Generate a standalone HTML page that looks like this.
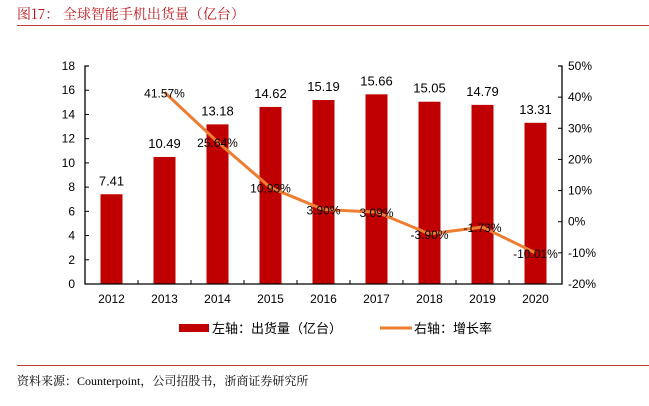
<!DOCTYPE html>
<html><head><meta charset="utf-8"><style>
body{margin:0;width:649px;height:401px;background:#fff;overflow:hidden;font-family:"Liberation Sans","Noto Sans CJK SC",sans-serif}
</style></head><body>
<svg width="649" height="401" xmlns="http://www.w3.org/2000/svg">
<text x="17" y="19" font-size="14" fill="#c0171c" font-family="Noto Serif CJK SC, serif">图17：  全球智能手机出货量（亿台）</text>
<line x1="17" y1="25.5" x2="649" y2="25.5" stroke="#c0393b" stroke-width="1"/>
<g id="plot"></g>
<g>
<rect x="179" y="324" width="30" height="8" fill="#c00000"/>
<text x="212" y="333" font-size="13" font-family="Noto Sans CJK SC, sans-serif">左轴：出货量（亿台）</text>
<line x1="380" y1="328" x2="412" y2="328" stroke="#ed7d31" stroke-width="3"/>
<text x="414" y="333" font-size="13" font-family="Noto Sans CJK SC, sans-serif">右轴：增长率</text>
</g>
<line x1="17" y1="365.5" x2="649" y2="365.5" stroke="#c0393b" stroke-width="1"/>
<text x="17" y="385" font-size="12" font-family="Liberation Serif, Noto Serif CJK SC, serif">资料来源：Counterpoint，公司招股书，浙商证券研究所</text>
</svg>
<script>
const categories=["2012","2013","2014","2015","2016","2017","2018","2019","2020"];
const shipments=[7.41,10.49,13.18,14.62,15.19,15.66,15.05,14.79,13.31];
const growth=[null,41.57,25.64,10.93,3.90,3.09,-3.90,-1.73,-10.01];
const leftTicks=[0,2,4,6,8,10,12,14,16,18];
const rightTicks=[-20,-10,0,10,20,30,40,50];
const X0=85,X1=562,Y0=284,Y1=66;
const band=(X1-X0)/categories.length;
const xc=i=>X0+band*(i+0.5);
const yl=v=>Y0-(v-0)/(18-0)*(Y0-Y1);
const yr=v=>Y0-(v+20)/70*(Y0-Y1);
const g=document.getElementById('plot');
const NS="http://www.w3.org/2000/svg";
function mk(t,a){const e=document.createElementNS(NS,t);for(const k in a)e.setAttribute(k,a[k]);g.appendChild(e);return e;}
shipments.forEach((v,i)=>{
 const r=mk('rect',{x:xc(i)-11,y:yl(v),width:22,height:Y0-yl(v),fill:'#c00000'});
 
 
});
// axes
const ax=mk('path',{d:`M${X0+4},${Y1}H${X0}V${Y0}H${X1}V${Y1}H${X1-4}`,fill:'none',stroke:'#000','stroke-width':1.3});


leftTicks.forEach(v=>{
 mk('line',{x1:X0,x2:X0+4,y1:yl(v),y2:yl(v),stroke:'#000'});
 const t=mk('text',{x:X0-10,y:yl(v)+4,'font-size':12,'text-anchor':'end'});t.textContent=v;
 
 
});
rightTicks.forEach(v=>{
 mk('line',{x1:X1-4,x2:X1,y1:yr(v),y2:yr(v),stroke:'#000'});
 const t=mk('text',{x:X1+6,y:yr(v)+4,'font-size':12});t.textContent=v+'%';
 
 
});
categories.forEach((c,i)=>{
 if(i>0)mk('line',{x1:X0+band*i,x2:X0+band*i,y1:Y0,y2:Y0-4,stroke:'#000'});
 const t=mk('text',{x:xc(i),y:Y0+19,'font-size':12,'text-anchor':'middle'});t.textContent=c;
 
 
});
let d='';growth.forEach((v,i)=>{if(v!==null)d+=(d?'L':'M')+xc(i)+','+yr(v);});
const ln=mk('path',{d:d,fill:'none',stroke:'#ed7d31','stroke-width':3});


shipments.forEach((v,i)=>{
 const t=mk('text',{x:xc(i),y:yl(v)-9,'font-size':13,'text-anchor':'middle'});t.textContent=v.toFixed(2);
 
 
});
growth.forEach((v,i)=>{if(v===null)return;
 const t=mk('text',{x:xc(i),y:yr(v)+5,'font-size':12,'text-anchor':'middle'});t.textContent=v.toFixed(2)+'%';
 
 
});
</script>
</body></html>
